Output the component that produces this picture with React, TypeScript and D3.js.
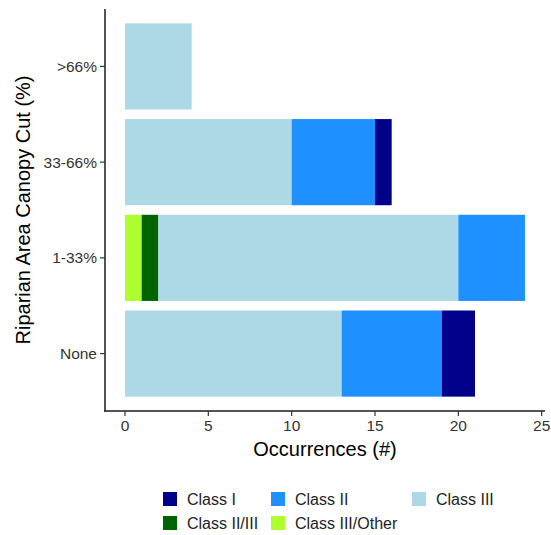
import React, { useEffect, useRef } from "react"
import * as d3 from "d3"

// categories (bottom to top)
const cuts = ["None", "1-33%", "33-66%", ">66%"]
// stacking order, left to right
const classes = ["Class III/Other", "Class II/III", "Class III", "Class II", "Class I"]
const classI = [2, 0, 1, 0]
const classII = [6, 4, 5, 0]
const classIII = [13, 18, 10, 4]
const classIIIII = [0, 1, 0, 0]
const classIIIOther = [0, 1, 0, 0]
const xTicks = [0, 5, 10, 15, 20, 25]
const legendOrder = ["Class I", "Class II", "Class III", "Class II/III", "Class III/Other"]

const colors: Record<string, string> = {
  "Class I": "#00008B",
  "Class II": "#1E90FF",
  "Class III": "#ADD8E6",
  "Class II/III": "#006400",
  "Class III/Other": "#ADFF2F",
}

const App = () => {
  const ref = useRef<SVGSVGElement>(null)

  useEffect(() => {
    const svg = d3.select(ref.current)
    svg.selectAll("*").remove()
    const font = "Liberation Sans, Arial, sans-serif"

    const left = 105, right = 545, top = 9, bottom = 411

    const rows = cuts.map((c, i) => ({
      cut: c,
      "Class I": classI[i],
      "Class II": classII[i],
      "Class III": classIII[i],
      "Class II/III": classIIIII[i],
      "Class III/Other": classIIIOther[i],
    }))
    const stacked = d3.stack<any>().keys(classes)(rows)

    const maxTotal = d3.max(rows, r => d3.sum(classes, k => r[k])) as number
    const x = d3.scaleLinear()
      .domain([-maxTotal * 0.05, maxTotal * 1.05])
      .range([left, right])

    // discrete axis with ggplot-like 0.6 expansion
    const step = (bottom - top) / (cuts.length - 1 + 1.2)
    const y = (c: string) => bottom - step * 0.6 - cuts.indexOf(c) * step
    const bh = step * 0.9

    const g = svg.append("g")
    stacked.forEach(layer => {
      g.selectAll(null)
        .data(layer)
        .enter()
        .append("rect")
        .attr("x", d => x(d[0]))
        .attr("width", d => Math.max(0, x(d[1]) - x(d[0])))
        .attr("y", d => y(d.data.cut) - bh / 2)
        .attr("height", bh)
        .attr("fill", colors[layer.key])
    })

    // axes
    svg.append("line")
      .attr("x1", left).attr("x2", left)
      .attr("y1", top).attr("y2", bottom + 0.75)
      .attr("stroke", "#1a1a1a").attr("stroke-width", 1.5)
    svg.append("line")
      .attr("x1", left - 0.75).attr("x2", right)
      .attr("y1", bottom).attr("y2", bottom)
      .attr("stroke", "#1a1a1a").attr("stroke-width", 1.5)

    xTicks.forEach(t => {
      svg.append("line")
        .attr("x1", x(t)).attr("x2", x(t))
        .attr("y1", bottom).attr("y2", bottom + 5)
        .attr("stroke", "#333").attr("stroke-width", 1.2)
      svg.append("text")
        .attr("x", x(t)).attr("y", bottom + 20)
        .attr("text-anchor", "middle")
        .attr("font-family", font).attr("font-size", 15.5)
        .attr("fill", "#333")
        .text(t)
    })

    cuts.forEach(c => {
      svg.append("line")
        .attr("x1", left - 5).attr("x2", left)
        .attr("y1", y(c)).attr("y2", y(c))
        .attr("stroke", "#333").attr("stroke-width", 1.2)
      svg.append("text")
        .attr("x", left - 8).attr("y", y(c))
        .attr("dy", "0.36em")
        .attr("text-anchor", "end")
        .attr("font-family", font).attr("font-size", 15.5)
        .attr("fill", "#333")
        .text(c)
    })

    svg.append("text")
      .attr("x", (left + right) / 2).attr("y", 456)
      .attr("text-anchor", "middle")
      .attr("font-family", font).attr("font-size", 20)
      .attr("fill", "#000")
      .text("Occurrences (#)")

    svg.append("text")
      .attr("transform", `translate(30,${(top + bottom) / 2}) rotate(-90)`)
      .attr("text-anchor", "middle")
      .attr("font-family", font).attr("font-size", 20)
      .attr("fill", "#000")
      .text("Riparian Area Canopy Cut (%)")

    // legend
    const colX = [163, 271, 412]
    const rowY = [492, 516]
    legendOrder.forEach((k, i) => {
      const cx = colX[i % 3], cy = rowY[Math.floor(i / 3)]
      svg.append("rect")
        .attr("x", cx).attr("y", cy)
        .attr("width", 14).attr("height", 14)
        .attr("fill", colors[k])
      svg.append("text")
        .attr("x", cx + 24).attr("y", cy + 7)
        .attr("dy", "0.36em")
        .attr("font-family", font).attr("font-size", 16)
        .attr("fill", "#222")
        .text(k)
    })
  }, [])

  return <svg ref={ref} width={551} height={535} style={{ display: "block", position: "absolute", left: 0, top: 0 }} />
}

export default App
